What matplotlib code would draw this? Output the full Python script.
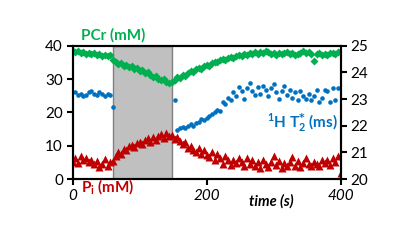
import numpy as np
import matplotlib
matplotlib.use("Agg")
import matplotlib.pyplot as plt

plt.rcParams['font.family'] = ['Lato', 'DejaVu Sans']
plt.rcParams['mathtext.fontset'] = 'custom'
plt.rcParams['mathtext.rm'] = 'Lato:bold'
plt.rcParams['mathtext.it'] = 'Lato:bold'
plt.rcParams['mathtext.bf'] = 'Lato:bold'
plt.rcParams['mathtext.sf'] = 'DejaVu Sans:bold'
plt.rcParams['mathtext.default'] = 'rm'

# time grid (s), one sample every 4 s
t = np.arange(0, 401, 4)

# PCr (mM), left axis
pcr = [38.3, 38.0, 38.5, 37.9, 38.2, 37.6, 37.9, 37.4, 37.7, 37.2, 37.5, 37.0, 37.3, 36.8, 37.1,
       35.6,
       35.2, 34.6, 34.9, 34.0, 34.3, 33.5, 33.8, 33.0, 33.2, 32.4, 32.7, 31.8, 32.1, 31.2, 30.6,
       31.0, 30.1, 29.7, 30.0, 29.2, 28.7, 29.0,
       29.8, 30.6, 30.2, 31.2, 31.0, 31.8, 32.3, 32.0, 32.9, 33.3, 33.1, 33.8, 34.3, 34.0, 34.8,
       35.2, 35.0, 35.6, 35.9, 35.6, 36.3, 36.6, 36.3, 36.9, 37.2,
       37.0, 37.5, 37.3, 37.8, 37.6, 38.0, 37.5, 38.2, 37.8, 38.5, 38.0, 37.6, 37.9, 37.3, 37.7,
       37.4, 37.8, 38.1, 37.6, 37.9, 37.2, 37.6, 37.9, 38.3, 37.8, 38.1, 37.6, 35.3, 37.5, 37.9,
       37.3, 37.6, 37.2, 37.7, 37.9, 37.5, 38.0, 38.3]

# Pi (mM), left axis
pi = [5.2, 6.4, 4.8, 7.0, 5.6, 6.2, 5.0, 5.8, 4.4, 5.3, 3.6, 4.6, 5.9, 3.8, 5.0,
      5.4,
      7.0, 8.1, 7.4, 9.0, 8.6, 9.9, 10.3, 9.6, 10.8, 11.2, 10.5, 11.6, 12.2, 11.0, 12.5,
      11.8, 12.8, 13.5, 12.4, 13.9, 12.9, 13.2,
      12.0, 12.6, 11.3, 10.4, 11.0, 9.2, 9.8, 8.6, 8.2, 9.4, 7.6, 8.8, 7.2, 6.6, 8.0,
      5.8, 7.4, 6.2, 4.6, 6.8, 5.6, 4.2, 5.8, 4.8, 6.2,
      5.0, 3.8, 6.4, 4.6, 5.6, 4.0, 5.2, 3.4, 5.8, 4.4, 3.6, 5.0, 6.8, 4.2, 5.4,
      3.2, 4.8, 3.8, 5.2, 6.6, 4.0, 5.4, 3.6, 4.8, 6.2, 4.4, 3.8, 5.2, 4.6, 4.0,
      5.6, 4.8, 5.8, 4.2, 6.4, 5.2, 6.8, 1.8]

# 1H T2* (ms), right axis -- no samples during the shaded interval
t_t2_pre = np.arange(4, 61, 4)
t2_pre = [23.25, 23.15, 23.2, 23.1, 23.15, 23.25, 23.3, 23.2, 23.15, 23.25, 23.2, 23.1, 23.2, 23.15,
          22.7]
t_t2_post = np.arange(152, 401, 4)
t2_post = [22.98,
           21.85, 21.9, 21.95, 21.9, 22.0, 22.05, 22.0, 22.1, 22.15, 22.25, 22.2, 22.3, 22.35,
           22.45, 22.5, 22.6, 22.55, 22.9, 22.8, 23.05, 22.95, 23.25, 23.1, 23.45, 23.3, 23.0,
           23.4, 23.6, 23.3, 23.15, 23.45, 23.2, 23.5, 23.35, 23.1, 23.4, 23.55, 23.25, 23.0,
           23.3, 23.5, 23.15, 23.35, 23.05, 23.25, 22.95, 23.3, 23.1, 23.0, 23.2, 22.95, 23.1,
           23.35, 22.9, 23.05, 23.35, 23.3, 22.9, 23.4, 22.95, 23.4, 23.4]

stim_start, stim_end = 60, 148

green = '#00B050'
blue = '#0070C0'
red = '#C00000'

fig = plt.figure(figsize=(4.02, 2.48), dpi=100)
ax = fig.add_axes([0.1808, 0.2782, 0.6667, 0.5375])
ax2 = ax.twinx()

ax.axvspan(stim_start, stim_end, facecolor='#c0c0c0', edgecolor='#808080', lw=1.0, zorder=0)
ax.plot(t, pcr, 'D', color=green, ms=3.6, mec='none', zorder=3)
ax.plot(t, pi, '^', color=red, ms=5.5, mec='none', zorder=3)
ax2.plot(t_t2_pre, t2_pre, 'o', color=blue, ms=3.3, mec='none')
ax2.plot(t_t2_post, t2_post, 'o', color=blue, ms=3.3, mec='none')

ax.set_xlim(0, 400)
ax.set_ylim(0, 40)
ax2.set_ylim(20, 25)
ax.set_xticks([0, 200, 400])
ax.set_xticklabels(['0', '200', '400'], fontstyle='italic')
ax.set_yticks([0, 10, 20, 30, 40])
ax2.set_yticks([20, 21, 22, 23, 24, 25])

for a in (ax, ax2):
    for s in a.spines.values():
        s.set_linewidth(1.5)
    a.tick_params(direction='out', length=4, width=1.5, labelsize=11, colors='black',
                  pad=3)

ax.text(0.03, 1.08, 'PCr (mM)', transform=ax.transAxes, color=green, fontsize=11,
        fontweight='bold', ha='left', va='center')
ax.text(0.03, -0.06, r'P$_{\mathrm{i}}$ (mM)', transform=ax.transAxes, color=red,
        fontsize=11, fontweight='bold', ha='left', va='center')
ax.text(0.99, 0.42, r'$^{1}$H T$_{2}^{\mathsf{*}}$ (ms)', transform=ax.transAxes, color=blue,
        fontsize=11, fontweight='bold', ha='right', va='center')
ax.text(0.74, -0.165, 'time (s)', transform=ax.transAxes, fontsize=10.5,
        fontweight='bold', fontstyle='italic', ha='center', va='center')

fig.savefig('out.png', dpi=100)
